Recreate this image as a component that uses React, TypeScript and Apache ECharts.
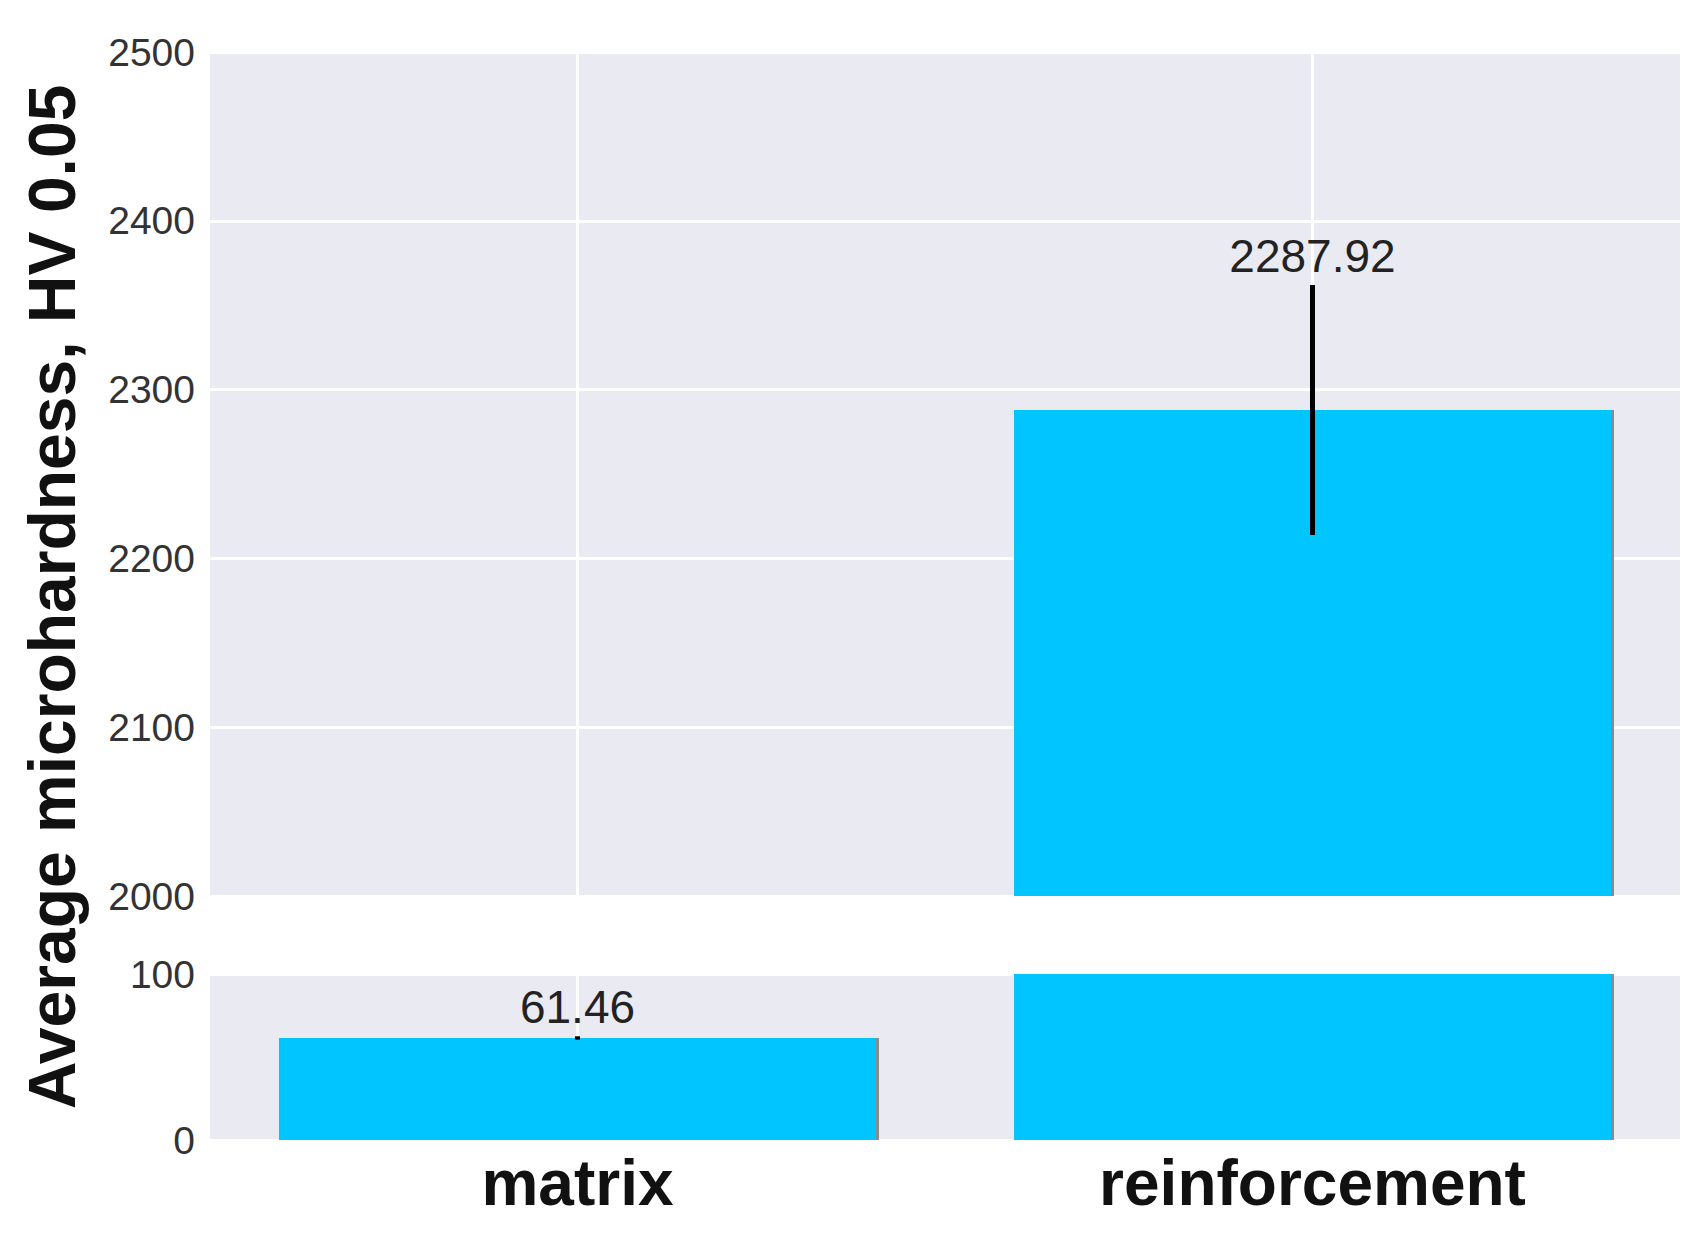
import React, { useEffect, useRef } from "react";
import * as echarts from "echarts";

const categories = ["matrix", "reinforcement"];
const means = [61.46, 2287.92];
const errors = [1, 74];
const upperRange = [2000, 2500];
const lowerRange = [0, 100];
const tickStep = 100;
const yTitle = "Average microhardness, HV 0.05";

const FONT = '"Liberation Sans", Arial, sans-serif';
const BAR = "#00C5FF";
const BG = "#EAEAF2";

export default function App() {
  const ref = useRef<HTMLDivElement>(null);
  useEffect(() => {
    const chart = echarts.init(ref.current!, null, { renderer: "svg" });
    const errData = categories.map((c, i) => [i, means[i], errors[i]]);

    const renderErr = (params: any, api: any) => {
      const i = api.value(0);
      const v = api.value(1);
      const e = api.value(2);
      const cs = params.coordSys;
      const top = api.coord([i, v + e]);
      const bot = api.coord([i, v - e]);
      if (top[1] > cs.y + cs.height || bot[1] < cs.y) return null;
      return {
        type: "group",
        children: [
          {
            type: "line",
            shape: { x1: top[0], y1: top[1], x2: bot[0], y2: bot[1] },
            style: { stroke: "#000", lineWidth: 5 },
          },
          {
            type: "text",
            x: top[0],
            y: top[1] - 6,
            style: {
              text: v.toFixed(2),
              fill: "#222",
              font: `46px ${FONT}`,
              align: "center",
              verticalAlign: "bottom",
            },
          },
        ],
      };
    };

    const xAxisBase = (gridIndex: number, showLabel: boolean) => ({
      type: "category",
      gridIndex,
      data: categories,
      axisLine: { show: false },
      axisTick: { show: false },
      axisLabel: {
        show: showLabel,
        fontFamily: FONT,
        fontWeight: "bold",
        fontSize: 64,
        lineHeight: 64,
        color: "#111",
        margin: 11,
      },
      splitLine: {
        show: true,
        alignWithLabel: true,
        lineStyle: { color: "#fff", width: 3 },
      },
    });

    const yAxisBase = (gridIndex: number, range: number[]) => ({
      type: "value",
      gridIndex,
      min: range[0],
      max: range[1],
      interval: tickStep,
      startValue: range[0],
      axisLine: { show: false },
      axisTick: { show: false },
      axisLabel: {
        fontFamily: FONT,
        fontSize: 39,
        color: "#333",
        margin: 15,
        formatter: (v: number) => String(v),
      },
      splitLine: { show: true, lineStyle: { color: "#fff", width: 3 } },
    });

    const barSeries = (idx: number) => ({
      type: "bar",
      xAxisIndex: idx,
      yAxisIndex: idx,
      data: means,
      barWidth: 597,
      clip: true,
      z: 2,
      itemStyle: {
        color: BAR,
        shadowColor: "#8a8a8a",
        shadowOffsetX: 3,
        shadowOffsetY: 0,
        shadowBlur: 0,
      },
    });

    const errSeries = (idx: number) => ({
      type: "custom",
      xAxisIndex: idx,
      yAxisIndex: idx,
      data: errData,
      encode: { x: 0, y: 1 },
      z: 5,
      renderItem: renderErr,
    });

    chart.setOption({
      animation: false,
      backgroundColor: "#fff",
      grid: [
        { left: 210, right: 23, top: 52, height: 844, show: true, backgroundColor: BG, borderWidth: 0 },
        { left: 210, right: 23, top: 974, height: 166, show: true, backgroundColor: BG, borderWidth: 0 },
      ],
      xAxis: [xAxisBase(0, false), xAxisBase(1, true)],
      yAxis: [yAxisBase(0, upperRange), yAxisBase(1, lowerRange)],
      graphic: [
        {
          type: "text",
          x: 52,
          y: 597,
          rotation: Math.PI / 2,
          style: {
            text: yTitle,
            font: `bold 66px ${FONT}`,
            fill: "#111",
            align: "center",
            verticalAlign: "middle",
          },
        },
      ],
      series: [barSeries(0), barSeries(1), errSeries(0), errSeries(1)],
    });
    return () => chart.dispose();
  }, []);
  return (
    <div
      ref={ref}
      style={{ position: "fixed", left: 0, top: 0, width: "1703px", height: "1236px", background: "#fff" }}
    />
  );
}
